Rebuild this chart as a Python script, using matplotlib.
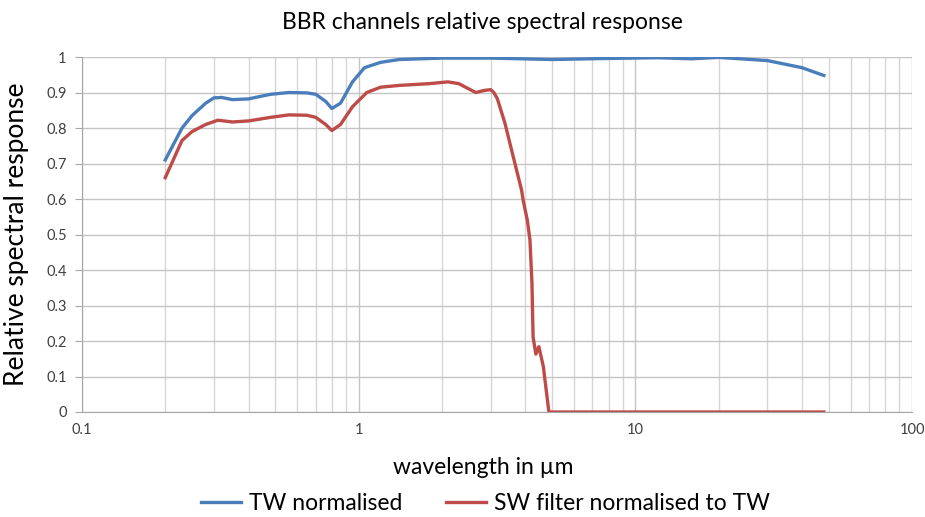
import matplotlib.pyplot as plt
from matplotlib.ticker import FuncFormatter, LogLocator, MultipleLocator

plt.rcParams['font.family'] = ['Lato', 'DejaVu Sans']

# TW normalised
tw_wl = [0.2, 0.23, 0.25, 0.28, 0.3, 0.32, 0.35, 0.4, 0.48, 0.56, 0.65, 0.7, 0.76, 0.8, 0.86,
         0.95, 1.05, 1.2, 1.4, 2.0, 3.0, 5.0, 8.0, 12.0, 16.0, 20.0, 30.0, 40.0, 48.0]
tw = [0.71, 0.80, 0.835, 0.87, 0.885, 0.886, 0.88, 0.882, 0.895, 0.90, 0.899, 0.895, 0.875, 0.855, 0.87,
      0.93, 0.97, 0.985, 0.993, 0.997, 0.997, 0.993, 0.996, 0.998, 0.995, 0.999, 0.99, 0.97, 0.948]

# SW filter normalised to TW
sw_wl = [0.2, 0.23, 0.25, 0.28, 0.31, 0.35, 0.4, 0.48, 0.56, 0.65, 0.7, 0.76, 0.8, 0.86,
         0.95, 1.07, 1.2, 1.4, 1.8, 2.1, 2.3, 2.65, 2.85, 3.0, 3.08, 3.17, 3.38, 3.57, 3.88,
         3.93, 4.07, 4.16, 4.23, 4.27, 4.37, 4.48, 4.65, 4.87, 10.0, 48.0]
sw = [0.66, 0.765, 0.79, 0.81, 0.822, 0.817, 0.82, 0.83, 0.837, 0.836, 0.83, 0.81, 0.793, 0.81,
      0.86, 0.90, 0.915, 0.92, 0.925, 0.93, 0.925, 0.90, 0.906, 0.908, 0.9, 0.883, 0.813, 0.738, 0.625,
      0.597, 0.54, 0.485, 0.363, 0.211, 0.163, 0.184, 0.128, 0.0, 0.0, 0.0]

fig = plt.figure(figsize=(9.25, 5.17), dpi=100)
ax = fig.add_axes([0.0886, 0.2031, 0.8974, 0.6866])

ax.plot(tw_wl, tw, color='#4a7ebb', lw=2.4, label='TW normalised', solid_joinstyle='round')
ax.plot(sw_wl, sw, color='#be4b48', lw=2.4, label='SW filter normalised to TW', solid_joinstyle='round')

ax.set_xscale('log')
ax.set_xlim(0.1, 100)
ax.set_ylim(0, 1)
ax.yaxis.set_major_locator(MultipleLocator(0.1))
ax.xaxis.set_major_locator(LogLocator(base=10))
ax.xaxis.set_minor_locator(LogLocator(base=10, subs=range(2, 10)))
fmt = FuncFormatter(lambda v, p: '%g' % round(v, 2))
ax.xaxis.set_major_formatter(fmt)
ax.yaxis.set_major_formatter(fmt)

ax.grid(True, which='major', color='#c4c4c4', lw=1)
ax.grid(True, which='minor', axis='x', color='#d6d6d6', lw=1)
ax.set_axisbelow(True)
for s in ['top', 'right']:
    ax.spines[s].set_visible(False)
for s in ['left', 'bottom']:
    ax.spines[s].set_color('#a6a6a6')
ax.tick_params(axis='y', length=5, color='#a6a6a6', labelsize=10.5, labelcolor='#404040', pad=6)
ax.tick_params(axis='x', which='major', length=0, labelsize=10.5, labelcolor='#404040', pad=8)
ax.tick_params(axis='x', which='minor', length=0)

ax.set_title('BBR channels relative spectral response', fontsize=16.5, pad=20, x=0.483)
ax.set_xlabel('wavelength in µm', fontsize=16.5, labelpad=14, x=0.483)
ax.set_ylabel('Relative spectral response', fontsize=19, labelpad=12)

fig.legend(loc='lower center', ncol=2, frameon=False, fontsize=16.5,
           bbox_to_anchor=(0.525, -0.035), handlelength=1.75, handletextpad=0.35,
           columnspacing=1.9)

fig.savefig('out.png', dpi=100)
